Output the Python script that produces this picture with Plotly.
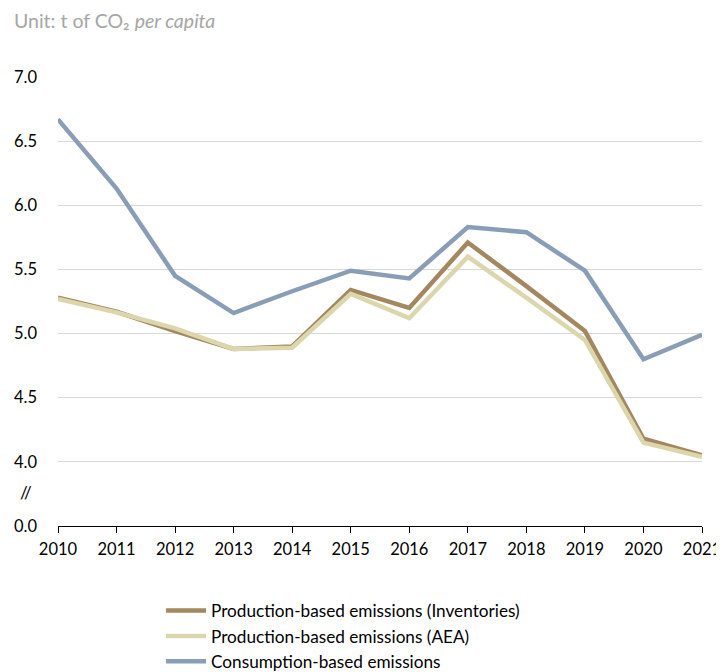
import plotly.graph_objects as go

years = list(range(2010, 2022))
inventories = [5.28, 5.17, 5.02, 4.88, 4.90, 5.34, 5.20, 5.71, 5.37, 5.02, 4.18, 4.05]
aea = [5.27, 5.165, 5.04, 4.88, 4.89, 5.31, 5.12, 5.60, 5.28, 4.95, 4.15, 4.04]
consumption = [6.67, 6.13, 5.45, 5.16, 5.33, 5.49, 5.43, 5.83, 5.79, 5.49, 4.80, 4.99]

series_names = ["Production-based emissions (Inventories)",
                "Production-based emissions (AEA)",
                "Consumption-based emissions"]
series_colors = ["#A3885F", "#DCD6AC", "#8A9DB6"]

# broken axis: values >= 4 shown as-is, 0.0 placed one step below 4.0
tick_vals = [3.5, 4.0, 4.5, 5.0, 5.5, 6.0, 6.5, 7.0]
tick_text = ["0.0", "4.0", "4.5", "5.0", "5.5", "6.0", "6.5", "7.0"]

FONT = "Lato"
fig = go.Figure()
for name, vals, col in zip(series_names, [inventories, aea, consumption], series_colors):
    fig.add_trace(go.Scatter(x=years, y=vals, mode="lines", name=name,
                             line=dict(color=col, width=4.5)))

fig.update_layout(
    width=716, height=664,
    margin=dict(l=50, r=22, t=69, b=146, autoexpand=False),
    plot_bgcolor="white", paper_bgcolor="white",
    font=dict(family=FONT, size=17, color="#000000"),
    showlegend=True,
    legend=dict(orientation="v", x=0.16, xanchor="left", y=-0.149, yanchor="top",
                font=dict(family=FONT, size=17.2, color="#000000"),
                tracegroupgap=0, itemwidth=40, traceorder="normal"),
    xaxis=dict(range=[2010, 2021], tickvals=years, ticktext=[str(y) for y in years],
               showline=True, linecolor="black", linewidth=1.3,
               ticks="outside", ticklen=6, tickcolor="black", tickwidth=1.3,
               showgrid=False, zeroline=False, automargin=False,
               ticklabelstandoff=2,
               tickfont=dict(family=FONT, size=16.5, color="#000000")),
    yaxis=dict(range=[3.5, 7.0], tickvals=tick_vals, ticktext=tick_text,
               showgrid=True, gridcolor="#D9D9D9", gridwidth=1.3,
               zeroline=False, showline=False, ticks="", automargin=False,
               ticklabelstandoff=20,
               tickfont=dict(family=FONT, size=16.5, color="#000000")),
    annotations=[
        dict(text="Unit: t of CO\u2082 <i>per capita</i>", xref="paper", yref="paper",
             x=0, y=1, xshift=-46, yshift=57, xanchor="left", yanchor="middle",
             showarrow=False, font=dict(family=FONT, size=19.5, color="#A6A6A6")),
        dict(text="//", xref="paper", yref="y", x=0, y=3.76, xshift=-32,
             xanchor="center", yanchor="middle", showarrow=False,
             font=dict(family=FONT, size=17, color="#000000")),
    ],
)

fig.write_html("out.html")
